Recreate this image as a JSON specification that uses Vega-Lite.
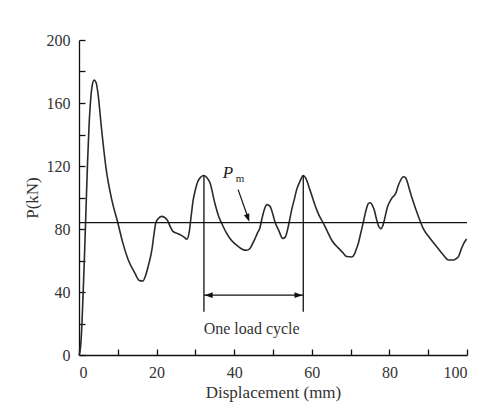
{
  "$schema": "https://vega.github.io/schema/vega-lite/v6.json",
  "width": 388,
  "height": 315,
  "autosize": {"type": "none"},
  "padding": {"left": 79, "top": 40, "right": 36, "bottom": 60},
  "background": "white",
  "config": {
    "view": {"stroke": null},
    "font": "Liberation Serif",
    "axis": {
      "grid": false,
      "domainColor": "#111",
      "domainWidth": 1.3,
      "tickColor": "#111",
      "tickWidth": 1.3,
      "tickSize": -6,
      "labelFont": "Liberation Serif",
      "labelFontSize": 16,
      "labelColor": "#333",
      "titleFont": "Liberation Serif",
      "titleFontSize": 17,
      "titleFontWeight": "normal",
      "titleColor": "#333"
    }
  },
  "datasets": {
    "curve": [
      {"x": 0, "y": 0}, {"x": 0.3, "y": 3}, {"x": 0.6, "y": 12}, {"x": 1.0, "y": 35}, {"x": 1.4, "y": 62},
      {"x": 1.8, "y": 92}, {"x": 2.2, "y": 122}, {"x": 2.6, "y": 146}, {"x": 3.0, "y": 162}, {"x": 3.4, "y": 171},
      {"x": 3.9, "y": 174.5}, {"x": 4.4, "y": 173}, {"x": 4.9, "y": 166}, {"x": 5.75, "y": 145}, {"x": 7.0, "y": 118},
      {"x": 8.5, "y": 98}, {"x": 10.0, "y": 84}, {"x": 11.2, "y": 72}, {"x": 12.6, "y": 61}, {"x": 14.4, "y": 52},
      {"x": 15.6, "y": 47.2}, {"x": 16.5, "y": 47}, {"x": 17.1, "y": 50}, {"x": 17.8, "y": 56}, {"x": 18.8, "y": 67},
      {"x": 19.4, "y": 78}, {"x": 19.8, "y": 84}, {"x": 20.4, "y": 86.5}, {"x": 21.3, "y": 88}, {"x": 22.0, "y": 87.5},
      {"x": 22.8, "y": 85.5}, {"x": 23.6, "y": 81}, {"x": 24.2, "y": 78.5}, {"x": 25.5, "y": 77}, {"x": 27.0, "y": 75},
      {"x": 27.8, "y": 73.5}, {"x": 28.4, "y": 78}, {"x": 28.9, "y": 88}, {"x": 29.4, "y": 98}, {"x": 30.0, "y": 105},
      {"x": 30.6, "y": 110}, {"x": 31.4, "y": 113}, {"x": 32.2, "y": 114}, {"x": 33.0, "y": 112.5}, {"x": 33.8, "y": 109},
      {"x": 35.0, "y": 96.5}, {"x": 36.0, "y": 88}, {"x": 36.8, "y": 83.5}, {"x": 38.0, "y": 77.5}, {"x": 38.9, "y": 74},
      {"x": 40.0, "y": 71}, {"x": 41.1, "y": 68.8}, {"x": 42.2, "y": 67}, {"x": 43.2, "y": 66.5}, {"x": 44.0, "y": 67.5},
      {"x": 44.6, "y": 70}, {"x": 45.4, "y": 74}, {"x": 46.0, "y": 77.5}, {"x": 46.6, "y": 80.5}, {"x": 47.1, "y": 86},
      {"x": 47.6, "y": 91}, {"x": 48.4, "y": 95.5}, {"x": 49.2, "y": 94.5}, {"x": 50.0, "y": 89}, {"x": 50.5, "y": 84.6},
      {"x": 51.5, "y": 79}, {"x": 52.5, "y": 74}, {"x": 53.2, "y": 75}, {"x": 53.7, "y": 79}, {"x": 54.3, "y": 86},
      {"x": 54.8, "y": 92}, {"x": 55.5, "y": 99}, {"x": 56.1, "y": 105}, {"x": 57.0, "y": 110.5}, {"x": 57.8, "y": 114},
      {"x": 58.5, "y": 112}, {"x": 59.5, "y": 105}, {"x": 60.3, "y": 99}, {"x": 61.3, "y": 92}, {"x": 62.2, "y": 87},
      {"x": 63.0, "y": 83.6}, {"x": 64.0, "y": 78.5}, {"x": 65.1, "y": 73}, {"x": 66.8, "y": 68}, {"x": 68.0, "y": 65},
      {"x": 69.0, "y": 62.5}, {"x": 70.3, "y": 62.2}, {"x": 71.0, "y": 64}, {"x": 71.4, "y": 66.7}, {"x": 72.0, "y": 71},
      {"x": 72.4, "y": 75.1}, {"x": 73.3, "y": 84.6}, {"x": 74.1, "y": 93}, {"x": 74.6, "y": 96.3}, {"x": 75.1, "y": 96.7},
      {"x": 75.6, "y": 95}, {"x": 76.1, "y": 92}, {"x": 76.6, "y": 87}, {"x": 77.1, "y": 82.5}, {"x": 77.8, "y": 80.2},
      {"x": 78.3, "y": 82}, {"x": 78.6, "y": 84.6}, {"x": 79.5, "y": 94}, {"x": 80.6, "y": 99.5}, {"x": 81.7, "y": 103},
      {"x": 82.2, "y": 107}, {"x": 82.7, "y": 110}, {"x": 83.6, "y": 113.2}, {"x": 84.2, "y": 112.5}, {"x": 84.6, "y": 110},
      {"x": 85.3, "y": 104}, {"x": 86.0, "y": 98.4}, {"x": 87.5, "y": 87.8}, {"x": 88.7, "y": 80.4}, {"x": 90.5, "y": 74},
      {"x": 92.2, "y": 68.8}, {"x": 93.9, "y": 63.5}, {"x": 95.2, "y": 60.3}, {"x": 96.5, "y": 60.3}, {"x": 97.4, "y": 61.5},
      {"x": 97.8, "y": 62.5}, {"x": 98.6, "y": 67.7}, {"x": 99.2, "y": 71}, {"x": 99.9, "y": 73.7}
    ],
    "pm": [{"x": 0, "x2": 100, "y": 84}],
    "vert": [{"x": 32.2, "y": 27.5, "y2": 114}, {"x": 57.8, "y": 27.5, "y2": 114}],
    "harrow": [{"x": 32.2, "x2": 57.8, "y": 38}],
    "pmarrow": [{"x": 41.0, "y": 105, "x2": 43.6, "y2": 87}],
    "heads": [
      {"x": 32.4, "y": 38, "dir": "left"},
      {"x": 57.6, "y": 38, "dir": "right"},
      {"x": 43.9, "y": 84.6, "dir": "pm"}
    ],
    "cycle": [{"x": 44.5, "y": 16.5, "text": "One load cycle"}],
    "plabel": [{"x": 38.4, "y": 115.5, "text": "P"}],
    "mlabel": [{"x": 41.5, "y": 111.5, "text": "m"}]
  },
  "encoding": {
    "x": {
      "field": "x",
      "type": "quantitative",
      "scale": {"domain": [0, 100], "nice": false},
      "axis": {
        "title": "Displacement (mm)",
        "values": [0, 10, 20, 30, 40, 50, 60, 70, 80, 90, 100],
        "labelExpr": "datum.value % 20 == 0 ? datum.label : ''",
        "labelPadding": 15,
        "titlePadding": 4
      }
    },
    "y": {
      "field": "y",
      "type": "quantitative",
      "scale": {"domain": [0, 200], "nice": false},
      "axis": {
        "title": "P(kN)",
        "values": [0, 20, 40, 60, 80, 100, 120, 140, 160, 180, 200],
        "labelExpr": "datum.value % 40 == 0 ? datum.label : ''",
        "labelPadding": 15,
        "titlePadding": 5
      }
    }
  },
  "layer": [
    {
      "data": {"name": "curve"},
      "mark": {"type": "line", "color": "#2a2a2a", "strokeWidth": 1.6, "interpolate": "monotone"}
    },
    {
      "data": {"name": "pm"},
      "mark": {"type": "rule", "color": "#111", "strokeWidth": 1.3},
      "encoding": {"x2": {"field": "x2"}}
    },
    {
      "data": {"name": "vert"},
      "mark": {"type": "rule", "color": "#111", "strokeWidth": 1.3},
      "encoding": {"y2": {"field": "y2"}}
    },
    {
      "data": {"name": "harrow"},
      "mark": {"type": "rule", "color": "#111", "strokeWidth": 1.3},
      "encoding": {"x2": {"field": "x2"}}
    },
    {
      "data": {"name": "pmarrow"},
      "mark": {"type": "rule", "color": "#111", "strokeWidth": 1.2},
      "encoding": {"x2": {"field": "x2"}, "y2": {"field": "y2"}}
    },
    {
      "data": {"name": "heads"},
      "mark": {"type": "point", "filled": true, "color": "#111", "opacity": 1, "size": 256},
      "encoding": {
        "shape": {
          "field": "dir",
          "type": "nominal",
          "scale": {
            "domain": ["left", "right", "pm"],
            "range": ["M0,0L1,-0.35L1,0.35Z", "M0,0L-1,-0.35L-1,0.35Z", "M0,0L-0.013,-1.06L-0.671,-0.82Z"]
          },
          "legend": null
        }
      }
    },
    {
      "data": {"name": "cycle"},
      "mark": {"type": "text", "font": "Liberation Serif", "fontSize": 16, "color": "#333", "align": "center", "baseline": "middle"},
      "encoding": {"text": {"field": "text"}}
    },
    {
      "data": {"name": "plabel"},
      "mark": {"type": "text", "font": "Liberation Serif", "fontSize": 17, "fontStyle": "italic", "color": "#222", "align": "center", "baseline": "middle"},
      "encoding": {"text": {"field": "text"}}
    },
    {
      "data": {"name": "mlabel"},
      "mark": {"type": "text", "font": "Liberation Serif", "fontSize": 11, "color": "#222", "align": "center", "baseline": "middle"},
      "encoding": {"text": {"field": "text"}}
    }
  ]
}
